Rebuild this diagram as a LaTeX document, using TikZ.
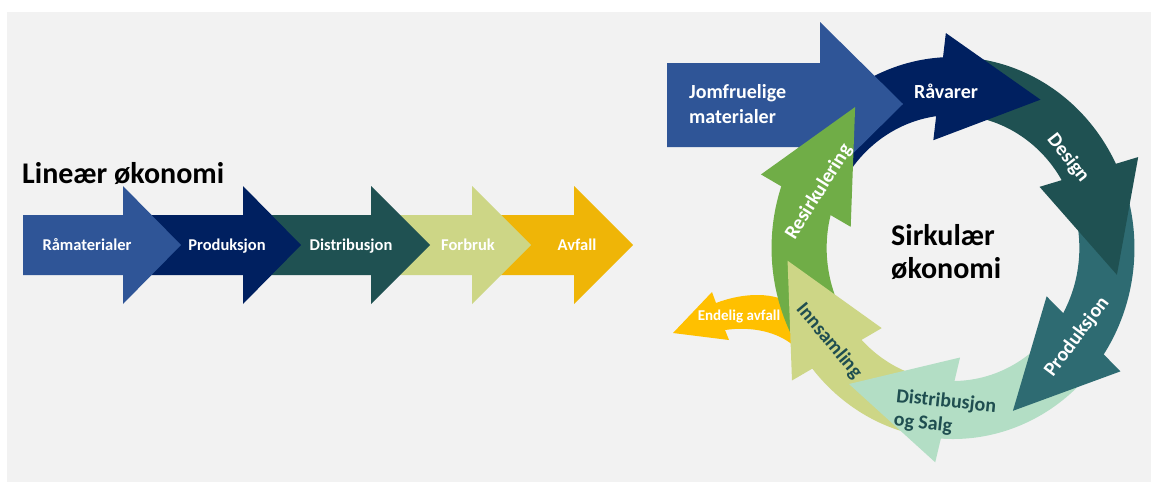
\documentclass[tikz,border=0pt]{standalone}
\usepackage{fontspec}
\setmainfont{Carlito}
\usetikzlibrary{calc}
\definecolor{bg}{HTML}{F2F2F2}
\definecolor{cblue}{HTML}{2F5597}
\definecolor{cnavy}{HTML}{002060}
\definecolor{cdteal}{HTML}{1F5152}
\definecolor{cteal}{HTML}{2E6B72}
\definecolor{clgreen}{HTML}{CDD686}
\definecolor{cgold}{HTML}{EFB507}
\definecolor{cyellow}{HTML}{FFC000}
\definecolor{cgreen}{HTML}{70AD47}
\definecolor{cmint}{HTML}{B3DEC5}
\definecolor{ctext}{HTML}{1F4E50}
\newcommand{\ringbody}[3]{\fill[#1] (#2:191) arc[start angle=#2, end angle=#3, radius=191] -- (#3:133) arc[start angle=#3, end angle=#2, radius=133] -- cycle;}
\newcommand{\ringhead}[2]{\fill[#1] ($(#2:162)+(#2-12:54)$) -- ($(#2:162)+(#2-102:107)$) -- ($(#2:162)+(#2+168:54)$) -- cycle;}
\newcommand{\linarrow}[4]{\fill[#1] (#2,215) -- (#3,215) -- (#3,186) -- (#4,245) -- (#3,304) -- (#3,275) -- (#2,275) -- cycle;}
\begin{document}
\begin{tikzpicture}[x=1pt,y=-1pt,
  lab/.style={font=\bfseries\fontsize{16.5}{19}\selectfont, text=white, inner sep=0pt},
  clab/.style={font=\bfseries\fontsize{20}{24}\selectfont, text=white, inner sep=0pt},
  title/.style={font=\bfseries\fontsize{30}{34}\selectfont, text=black, inner sep=0pt}]
\useasboundingbox (0,0) rectangle (1151,482);
\fill[white] (0,0) rectangle (1151,482);
\fill[bg] (7,12) rectangle (1151,482);
% linear economy
\linarrow{cgold}{472}{574}{633}
\linarrow{clgreen}{371}{472}{531}
\linarrow{cdteal}{243}{371}{430}
\linarrow{cnavy}{123}{243}{301}
\linarrow{cblue}{23}{123}{181}
\node[title, anchor=base west] (tlin) at (22,183) {Lineær økonomi};
\node[lab, anchor=base] (l1) at (87,250) {Råmaterialer};
\node[lab, anchor=base] (l2) at (227,250) {Produksjon};
\node[lab, anchor=base] (l3) at (351,250) {Distribusjon};
\node[lab, anchor=base] (l4) at (468,250) {Forbruk};
\node[lab, anchor=base] (l5) at (577,250) {Avfall};
% final waste
\fill[cyellow] (712,292) -- (673,333) -- (729,340) -- (725,330)
  .. controls (752,326) and (778,332) .. (794,346) -- (794,305)
  .. controls (775,292) and (745,292) .. (716,303) -- cycle;
% circular economy
\begin{scope}[shift={(953,248)}, xscale=0.95, yscale=-1]
\ringbody{cnavy}{159}{90}
\ringbody{cdteal}{91}{23}
\ringbody{cteal}{24}{-37}
\ringbody{cmint}{-36}{-97}
\ringbody{clgreen}{-96}{-144}
\ringbody{cgreen}{-143}{-202}
\end{scope}
\fill[cblue] (667,63) -- (820,63) -- (820,22) -- (903,104) -- (820,186) -- (820,147) -- (667,147) -- cycle;
\begin{scope}[shift={(953,248)}, xscale=0.95, yscale=-1]
\ringhead{cnavy}{95}
\ringhead{cdteal}{28}
\ringhead{cteal}{-32}
\ringhead{cmint}{-92}
\ringhead{clgreen}{-139}
\ringhead{cgreen}{163}
\end{scope}
\node[clab, anchor=base west] (j1) at (689,98) {Jomfruelige};
\node[clab, anchor=base west] (j2) at (689,123) {materialer};
\node[clab, anchor=base] (rv) at (946,98) {Råvarer};
\node[clab, rotate=-52] (ds) at (1068,158) {Design};
\node[clab, rotate=53] (pr) at (1077,337) {Produksjon};
\node[clab, text=ctext, rotate=-6, align=left] (dis) at (945,414) {Distribusjon\\og Salg};
\node[clab, text=ctext, rotate=-50] (ins) at (829,341) {Innsamling};
\node[clab, rotate=58] (res) at (819,192) {Resirkulering};
\node[font=\bfseries\fontsize{15}{18}\selectfont, text=white, inner sep=0pt, anchor=base] (end) at (739,320) {Endelig avfall};
\node[title, anchor=base west] (s1) at (891,245) {Sirkulær};
\node[title, anchor=base west] (s2) at (891,278) {økonomi};
\end{tikzpicture}
\end{document}
